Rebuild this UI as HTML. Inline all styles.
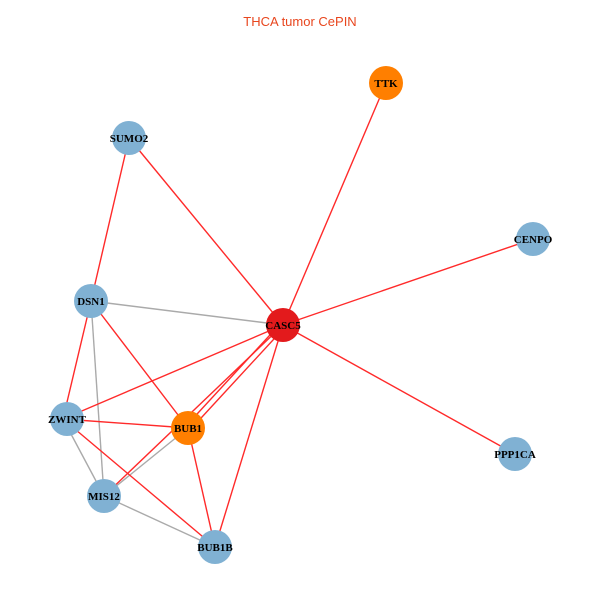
<!DOCTYPE html>
<html><head><style>body{margin:0;background:#fff}</style></head><body>
<svg width="600" height="600" xmlns="http://www.w3.org/2000/svg">
<text x="300" y="26" text-anchor="middle" font-family="Liberation Sans, sans-serif" font-size="13" fill="#e8461e">THCA tumor CePIN</text>
<g stroke="#aaaaaa" stroke-width="1.4">
<line x1="91" y1="301" x2="283" y2="325"/>
<line x1="91" y1="301" x2="104" y2="496"/>
<line x1="63" y1="419" x2="104" y2="496"/>
<line x1="104" y1="496" x2="215" y2="547"/>
<line x1="188" y1="428" x2="104" y2="496"/>
</g>
<g stroke="#ff2a2a" stroke-width="1.4">
<line x1="283" y1="325" x2="386" y2="83"/>
<line x1="283" y1="325" x2="129" y2="138"/>
<line x1="283" y1="325" x2="533" y2="239"/>
<line x1="283" y1="325" x2="515" y2="454"/>
<line x1="283" y1="325" x2="63" y2="419"/>
<line x1="281" y1="323" x2="186" y2="426"/>
<line x1="285" y1="327" x2="190" y2="430"/>
<line x1="283" y1="325" x2="104" y2="496"/>
<line x1="283" y1="325" x2="215" y2="547"/>
<line x1="129" y1="138" x2="91" y2="301"/>
<line x1="91" y1="301" x2="63" y2="419"/>
<line x1="91" y1="301" x2="188" y2="428"/>
<line x1="63" y1="419" x2="188" y2="428"/>
<line x1="63" y1="419" x2="215" y2="547"/>
<line x1="188" y1="428" x2="215" y2="547"/>
</g>
<g font-family="Liberation Serif, serif" font-weight="bold" font-size="11" text-anchor="middle" fill="#000">
<circle cx="386" cy="83" r="17" fill="#ff7f00"/><text x="386" y="87">TTK</text>
<circle cx="129" cy="138" r="17" fill="#80b1d3"/><text x="129" y="142">SUMO2</text>
<circle cx="533" cy="239" r="17" fill="#80b1d3"/><text x="533" y="243">CENPO</text>
<circle cx="91" cy="301" r="17" fill="#80b1d3"/><text x="91" y="305">DSN1</text>
<circle cx="283" cy="325" r="17" fill="#e31a1c"/><text x="283" y="329">CASC5</text>
<circle cx="67" cy="419" r="17" fill="#80b1d3"/><text x="67" y="423">ZWINT</text>
<circle cx="188" cy="428" r="17" fill="#ff7f00"/><text x="188" y="432">BUB1</text>
<circle cx="515" cy="454" r="17" fill="#80b1d3"/><text x="515" y="458">PPP1CA</text>
<circle cx="104" cy="496" r="17" fill="#80b1d3"/><text x="104" y="500">MIS12</text>
<circle cx="215" cy="547" r="17" fill="#80b1d3"/><text x="215" y="551">BUB1B</text>
</g>
</svg>
</body></html>
